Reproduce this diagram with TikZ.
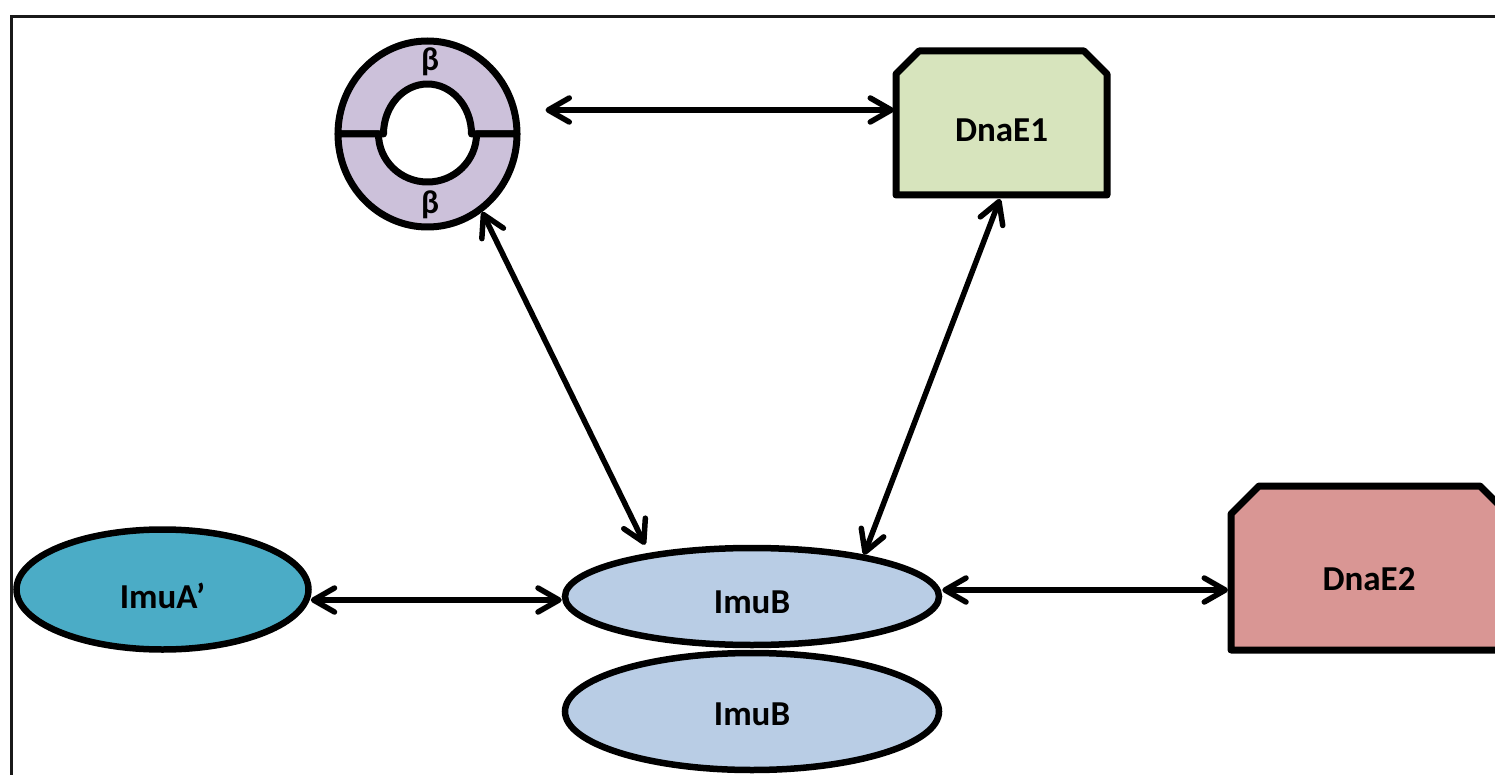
\documentclass[tikz,border=0pt]{standalone}
\usepackage{fontspec}
\setmainfont{Carlito}
\usetikzlibrary{arrows.meta,shapes.geometric}
\pgfdeclarelayer{bg}
\pgfsetlayers{bg,main}

\definecolor{ringfill}{HTML}{CCC1DA}
\definecolor{eonefill}{HTML}{D7E4BD}
\definecolor{etwofill}{HTML}{D99694}
\definecolor{imuafill}{HTML}{4BACC6}
\definecolor{imubfill}{HTML}{B9CDE5}

\tikzset{
  label font/.style={font=\bfseries\fontsize{35}{42}\selectfont},
  oval/.style={ellipse, draw=black, line width=6.5pt, inner sep=0pt, label font},
  boxnode/.style={rectangle, draw=none, outer sep=0pt, inner sep=0pt, label font},
  boxline/.style={draw=black, line width=7pt, line join=round},
  ringline/.style={draw=black, line width=7pt, line join=round},
  betalabel/.style={font=\bfseries\fontsize{33}{40}\selectfont, inner sep=0pt},
  barb/.tip={Straight Barb[length=21pt,width=24pt,line cap=round,line join=round]},
  link/.style={line width=5.5pt, line cap=round, barb-barb},
}

\begin{document}
\begin{tikzpicture}[x=1pt,y=1pt]
\useasboundingbox (0,0) rectangle (1495,-775);
\clip (0,0) rectangle (1495,-775);

% outer frame
\draw[line width=2.8pt, black!90] (11.3,-790) -- (11.3,-16.3) -- (1510,-16.3);

% sliding clamp: two beta halves
\node[ellipse, minimum width=179pt, minimum height=186pt, inner sep=0pt, outer sep=3.5pt] (beta) at (427.5,-134) {};
\draw[ringline, fill=ringfill] (338,-134) arc[start angle=180, end angle=0, x radius=89.5pt, y radius=93pt]
  -- (471.5,-134) arc[start angle=0, end angle=180, x radius=44pt, y radius=50pt] -- cycle;
\draw[ringline, fill=ringfill] (338,-134) arc[start angle=180, end angle=360, x radius=89.5pt, y radius=93pt]
  -- (476.5,-134) arc[start angle=360, end angle=180, x radius=49pt, y radius=48pt] -- cycle;
\node[betalabel] (betatop) at (430,-62) {β};
\node[betalabel] (betabot) at (430,-205) {β};

% polymerases
\node[boxnode, minimum width=211pt, minimum height=144pt, text height=38pt, text depth=0pt] (dnae1) at (1001.5,-123) {DnaE1};
\node[boxnode, minimum width=276pt, minimum height=164pt, text height=44pt, text depth=0pt] (dnae2) at (1369,-568) {DnaE2};
\begin{pgfonlayer}{bg}
\draw[boxline, fill=eonefill] (dnae1.south west) -- ([yshift=-23pt]dnae1.north west)
  -- ([xshift=23pt]dnae1.north west) -- ([xshift=-23pt]dnae1.north east)
  -- ([yshift=-23pt]dnae1.north east) -- (dnae1.south east) -- cycle;
\draw[boxline, fill=etwofill] (dnae2.south west) -- ([yshift=-28pt]dnae2.north west)
  -- ([xshift=28pt]dnae2.north west) -- ([xshift=-27pt]dnae2.north east)
  -- ([yshift=-27pt]dnae2.north east) -- (dnae2.south east) -- cycle;
\end{pgfonlayer}

% accessory proteins
\node[oval, fill=imuafill, minimum width=292pt, minimum height=120pt, text height=38pt, text depth=0pt] (imua) at (162.5,-589.5) {ImuA’};
\node[oval, fill=imubfill, minimum width=374pt, minimum height=117pt, text height=27pt, text depth=0pt] (imublow) at (752,-711.5) {ImuB};
\node[oval, fill=imubfill, minimum width=374pt, minimum height=97pt, text height=34pt, text depth=0pt] (imub) at (752,-596.5) {ImuB};

% interactions
\draw[link] ([shift={(25,24)}]beta.east) coordinate (c1) -- ([xshift=-2pt]c1 -| dnae1.west);
\draw[link] (beta.-55) -- ([xshift=-107pt]imub.north);
\draw[link] ([shift={(-1.5,-4)}]dnae1.south) -- ([shift={(112,-10)}]imub.north);
\draw[link] ([shift={(-1,-10.5)}]imua.east) coordinate (c4) -- (c4 -| imub.west);
\draw[link] ([yshift=6.5pt]imub.east) coordinate (c5) -- ([xshift=-3pt]c5 -| dnae2.west);
\end{tikzpicture}
\end{document}
